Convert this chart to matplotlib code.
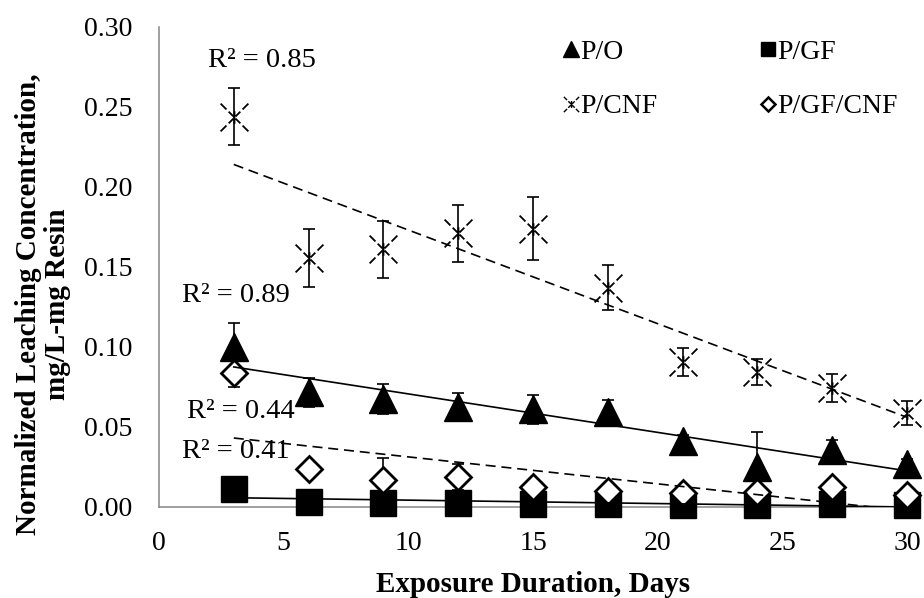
import numpy as np
import matplotlib
matplotlib.use("Agg")
import matplotlib.pyplot as plt
from matplotlib.path import Path
from matplotlib.lines import Line2D

plt.rcParams['font.family'] = ['Liberation Serif', 'DejaVu Serif']

days = [3, 6, 9, 12, 15, 18, 21, 24, 27, 30]
po = [0.100, 0.0718, 0.0675, 0.0625, 0.061, 0.0593, 0.041, 0.025, 0.0356, 0.0268]
po_err = [0.015, 0.009, 0.0095, 0.0085, 0.009, 0.0077, 0.004, 0.022, 0.0064, 0.003]
pgf = [0.0112, 0.003, 0.0025, 0.0025, 0.002, 0.0019, 0.0013, 0.0013, 0.002, 0.0013]
pgf_err = [0.001] * 10
pcnf = [0.244, 0.1556, 0.161, 0.171, 0.174, 0.137, 0.0906, 0.0844, 0.0744, 0.0587]
pcnf_err = [0.018, 0.018, 0.018, 0.018, 0.0195, 0.014, 0.0087, 0.0082, 0.0087, 0.0075]
pgfcnf = [0.0837, 0.0237, 0.0169, 0.0187, 0.0125, 0.010, 0.0088, 0.0094, 0.0125, 0.0075]
pgfcnf_err = [0.009, 0.003, 0.014, 0.008, 0.003, 0.002, 0.002, 0.002, 0.002, 0.002]

series_names = ['P/O', 'P/GF', 'P/CNF', 'P/GF/CNF']
r2_labels = ['R² = 0.89', 'R² = 0.41', 'R² = 0.85', 'R² = 0.44']
r2_pos = [(0.92, 0.1325), (0.92, 0.0344), (1.97, 0.279), (1.12, 0.060)]

# custom dashed asterisk marker (Excel "star")
verts, codes = [], []
for dx, dy in [(1, 1), (1, -1), (-1, 1), (-1, -1)]:
    for a, b in [(0.08, 0.42), (0.58, 1.0)]:
        verts += [(dx * a, dy * a), (dx * b, dy * b)]
        codes += [Path.MOVETO, Path.LINETO]
for a, b in [(0.0, 0.45), (0.0, -0.45)]:
    verts += [(0, a), (0, b)]
    codes += [Path.MOVETO, Path.LINETO]
verts += [(1.0, 1.0), (-1.0, -1.0)]
codes += [Path.MOVETO, Path.MOVETO]
star = Path(verts, codes)

fig = plt.figure(figsize=(9.24, 5.98), dpi=100)
ax = fig.add_axes([159 / 924, 1 - 507 / 598, (907 - 159) / 924, (507 - 27) / 598])

x = np.array(days, dtype=float)
data = [po, pgf, pcnf, pgfcnf]
errs = [po_err, pgf_err, pcnf_err, pgfcnf_err]
styles = [
    dict(marker='^', ms=20, mfc='black', mec='black', mew=1.0),
    dict(marker='s', ms=19, mfc='black', mec='black', mew=1.0),
    dict(marker=star, ms=20, mfc='none', mec='black', mew=1.3),
    dict(marker='D', ms=13, mfc='white', mec='black', mew=2.0),
]
trend_ls = ['-', '-', (0, (6, 3.5)), (0, (6, 3.5))]

for i in range(4):
    y = np.array(data[i])
    ax.errorbar(x, y, yerr=errs[i], fmt='none', ecolor='black', elinewidth=1.2,
                capsize=4.5, capthick=1.2, zorder=2, clip_on=False)
for i in range(4):
    y = np.array(data[i])
    ax.plot(x, y, linestyle='none', zorder=3 + i * 0.1, clip_on=False, **styles[i])
for i in range(4):
    y = np.array(data[i])
    k, b = np.polyfit(x, y, 1)
    xx = np.array([x.min(), x.max()])
    ax.plot(xx, k * xx + b, color='black', lw=1.2, linestyle=trend_ls[i], zorder=5)
    ax.text(r2_pos[i][0], r2_pos[i][1], r2_labels[i], fontsize=20.5, ha='left', va='center', zorder=6)

ax.set_xlim(0, 30)
ax.set_ylim(0, 0.30)
ax.set_xticks([0, 5, 10, 15, 20, 25, 30])
ax.set_yticks([0.0, 0.05, 0.10, 0.15, 0.20, 0.25, 0.30])
ax.set_yticklabels(['%.2f' % v for v in ax.get_yticks()])
ax.tick_params(axis='both', length=0, labelsize=20)
ax.tick_params(axis='y', pad=19)
ax.tick_params(axis='x', pad=17)
for s in ['top', 'right']:
    ax.spines[s].set_visible(False)
for s in ['left', 'bottom']:
    ax.spines[s].set_color('#868686')
    ax.spines[s].set_linewidth(1.1)

fig.text(533 / 924, 1 - 584 / 598, 'Exposure Duration, Days', fontsize=21,
         fontweight='bold', ha='center', va='center')
fig.text(43 / 924, 1 - 304 / 598, 'Normalized Leaching Concentration,\nmg/L-mg Resin',
         fontsize=21, fontweight='bold', rotation=90, ha='center', va='center',
         multialignment='center', linespacing=1.1)

handles = [
    Line2D([], [], linestyle='none', marker='^', ms=11, mfc='black', mec='black'),
    Line2D([], [], linestyle='none', marker='s', ms=10.5, mfc='black', mec='black'),
    Line2D([], [], linestyle='none', marker=star, ms=11, mfc='none', mec='black', mew=1.0),
    Line2D([], [], linestyle='none', marker='D', ms=7.5, mfc='white', mec='black', mew=1.8),
]
order = [0, 2, 1, 3]
leg = fig.legend([handles[j] for j in order], [series_names[j] for j in order],
                 loc='upper left', bbox_to_anchor=(544 / 924, 1 - 20 / 598), ncol=2,
                 frameon=False, fontsize=20, handlelength=0.55, handletextpad=0.05,
                 columnspacing=3.7, labelspacing=1.04, borderpad=0.2)

fig.savefig('out.png', dpi=100)
